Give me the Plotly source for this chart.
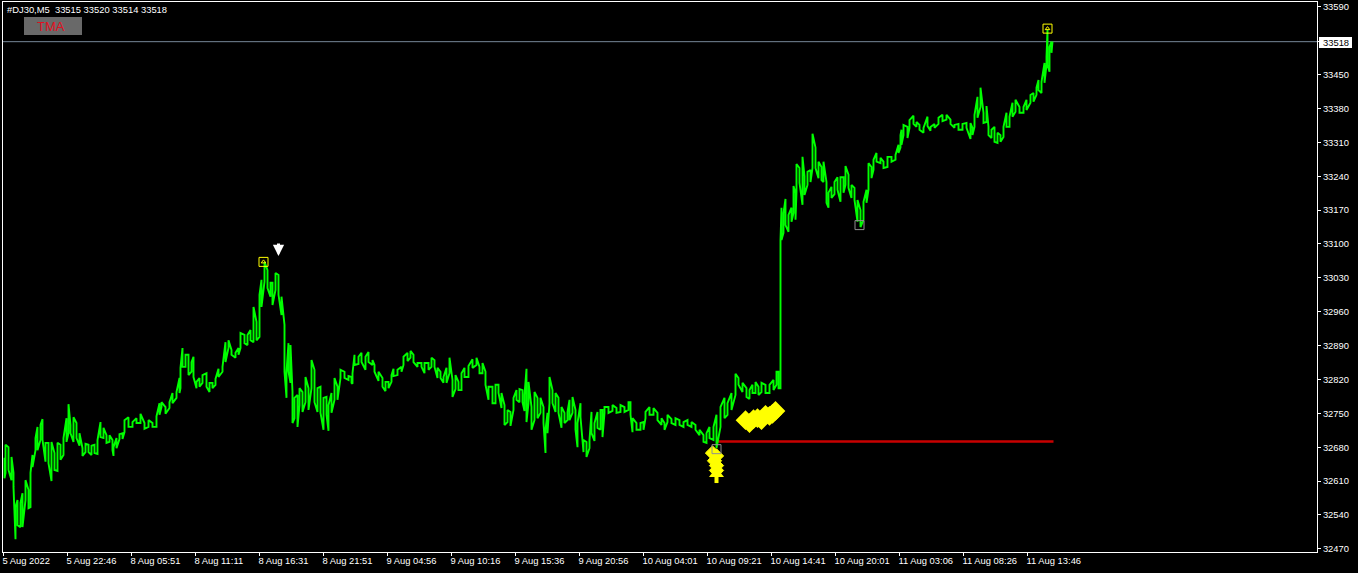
import plotly.graph_objects as go

bars = [4,5,8,11,13,15,17,20,22,25,28,30,32,35,37,40,42,45,48,51,54,57,60,63,66,68,70,73,76,79,82,85,88,91,94,97,100,103,106,109,112,113,116,119,122,124,128,132,136,140,144,148,152,156,159,161,165,169,172,176,179,
 180,182,185,188,191,193,196,199,202,206,209,212,215,218,222,225,228,231,235,238,240,244,247,250,253,256,259,261,264,267,270,272,275,278,281,284,286,288,290,292,294,297,299,302,305,308,311,314,317,320,323,326,328,331,334,337,340,344,348,351,352,
 354,358,361,365,368,372,374,378,382,385,388,391,393,397,401,403,407,410,413,417,421,424,428,431,434,437,440,443,446,449,452,455,458,461,464,468,472,476,479,482,485,488,492,495,498,501,504,507,510,513,516,519,522,524,526,528,
 531,534,537,540,543,545,547,549,552,555,558,561,564,567,569,572,575,577,580,583,586,589,591,594,597,600,602,604,608,612,616,620,624,628,630,632,636,640,643,645,649,653,657,661,664,667,671,675,679,683,687,691,695,699,703,706,709,713,
 716,720,724,727,731,735,738,742,746,749,752,755,758,761,765,769,773,776,778,
 780,781,783,785,788,791,793,795,796,799,802,804,807,810,812,815,818,821,823,826,828,831,834,837,840,843,845,848,851,854,857,860,863,866,868,871,873,876,880,883,887,891,895,898,900,
 901,903,907,909,913,916,919,923,927,930,934,938,942,946,950,954,958,962,966,970,972,974,977,980,983,986,988,991,994,997,1000,1003,1006,1009,1012,1015,1019,1023,1026,1030,1033,1036,1038,1041,1044,1046,1047,1049,1051,1052]

highs = [32658,32685,32680,32660,32627,32556,32571,32565,32585,32612,32592,32627,32664,32699,32722,32726,32738,32689,32689,32691,32668,32689,32685,32699,32740,32769,32726,32742,32730,32709,32678,32687,32685,32683,32685,32695,32732,32720,32705,32705,32695,32680,32699,32707,32709,32736,32742,32732,32740,32749,32730,32736,32730,32744,32771,32773,32763,32773,32792,32794,32823,
 32844,32885,32871,32871,32856,32867,32815,32823,32829,32833,32813,32813,32821,32842,32846,32897,32901,32881,32875,32885,32916,32912,32912,32922,32970,32939,32995,33026,33063,33046,33020,33020,33040,33036,32991,32933,32836,32895,32891,32794,32782,32788,32802,32794,32825,32802,32860,32840,32802,32805,32782,32784,32767,32792,32823,32805,32840,32836,32827,32825,32833,
 32871,32867,32875,32867,32877,32860,32850,32836,32823,32815,32815,32829,32842,32840,32846,32867,32875,32879,32871,32854,32854,32854,32854,32865,32860,32844,32836,32825,32844,32865,32819,32829,32815,32833,32844,32848,32862,32865,32846,32854,32836,32805,32805,32809,32809,32792,32767,32757,32753,32782,32798,32800,32798,32788,32842,32815,
 32763,32794,32782,32782,32763,32716,32751,32825,32798,32792,32782,32763,32751,32753,32778,32784,32757,32730,32771,32695,32691,32695,32753,32730,32753,32757,32757,32763,32763,32767,32761,32767,32763,32773,32773,32740,32730,32730,32732,32753,32763,32761,32751,32740,32730,32747,32738,32740,32736,32732,32736,32732,32726,32716,32705,32709,32722,32722,
 32747,32763,32782,32771,32792,32832,32823,32813,32802,32798,32809,32815,32805,32813,32809,32809,32819,32836,32836,
 33108,33175,33164,33193,33160,33175,33220,33206,33265,33257,33280,33240,33249,33253,33328,33299,33270,33259,33270,33228,33206,33218,33228,33238,33238,33238,33261,33243,33222,33216,33191,33170,33187,33212,33267,33259,33274,33288,33278,33270,33280,33280,33284,33305,33325,
 33336,33346,33342,33356,33365,33352,33346,33340,33363,33342,33348,33361,33367,33367,33357,33346,33348,33348,33350,33350,33340,33367,33404,33423,33371,33385,33342,33336,33342,33330,33325,33342,33371,33363,33392,33398,33383,33383,33398,33408,33412,33423,33439,33435,33474,33487,33542,33507,33518,33518]

lows = [32616,32627,32633,32612,32598,32490,32519,32515,32515,32571,32554,32556,32639,32674,32674,32695,32695,32650,32647,32610,32633,32631,32654,32664,32691,32709,32709,32691,32699,32683,32662,32670,32670,32664,32668,32666,32701,32699,32689,32691,32674,32662,32678,32697,32697,32711,32722,32722,32730,32730,32718,32722,32722,32722,32747,32763,32749,32761,32771,32782,32792,
 32802,32846,32846,32829,32836,32825,32802,32805,32813,32805,32794,32802,32809,32825,32836,32856,32885,32871,32865,32871,32885,32895,32891,32901,32897,32901,32908,32970,33022,33009,32991,32974,33005,32995,32953,32836,32782,32836,32813,32730,32740,32722,32767,32753,32773,32757,32802,32773,32753,32751,32716,32747,32714,32751,32778,32778,32823,32823,32819,32813,32811,
 32850,32852,32856,32840,32856,32850,32836,32817,32805,32796,32802,32815,32827,32829,32836,32850,32858,32865,32856,32846,32846,32833,32840,32846,32846,32823,32823,32813,32813,32833,32784,32800,32798,32798,32825,32825,32844,32850,32833,32833,32809,32778,32771,32771,32792,32761,32726,32732,32724,32757,32778,32773,32773,32755,32732,32771,
 32716,32736,32740,32751,32730,32668,32709,32771,32771,32753,32751,32720,32730,32736,32736,32751,32716,32680,32742,32670,32660,32678,32709,32693,32720,32716,32701,32751,32751,32755,32751,32753,32753,32757,32747,32711,32716,32716,32716,32740,32747,32747,32736,32726,32716,32732,32730,32726,32726,32722,32726,32722,32716,32705,32691,32689,32699,32695,
 32678,32722,32740,32747,32757,32788,32809,32794,32784,32780,32792,32792,32788,32794,32792,32792,32798,32809,32802,
 32802,33108,33123,33139,33125,33146,33164,33150,33208,33226,33181,33201,33222,33228,33257,33257,33236,33232,33228,33185,33175,33195,33203,33212,33187,33206,33222,33216,33195,33191,33146,33135,33150,33185,33212,33236,33253,33270,33267,33257,33259,33270,33274,33288,33299,
 33305,33325,33319,33340,33348,33342,33336,33330,33344,33334,33340,33348,33354,33357,33348,33340,33336,33336,33340,33317,33325,33342,33361,33383,33350,33352,33325,33319,33311,33309,33311,33321,33342,33342,33363,33373,33371,33371,33377,33392,33394,33408,33418,33412,33433,33470,33470,33456,33495,33518]

tick_bars = [3,67,131,195,259,323,387,451,515,579,643,707,771,835,899,963,1027]
tick_times = ["5 Aug 2022","5 Aug 22:46","8 Aug 05:51","8 Aug 11:11","8 Aug 16:31","8 Aug 21:51","9 Aug 04:56","9 Aug 10:16","9 Aug 15:36","9 Aug 20:56","10 Aug 04:01","10 Aug 09:21","10 Aug 14:41","10 Aug 20:01","11 Aug 03:06","11 Aug 08:26","11 Aug 13:46"]
price_ticks = [33590,33450,33380,33310,33240,33170,33100,33030,32960,32890,32820,32750,32680,32610,32540,32470]
last_price = 33518
title_text = "#DJ30,M5  33515 33520 33514 33518"
button_text = "TMA"

level_bars = [716,1053]
level_prices = [32692,32692]
peak_bars = [263,1047]
peak_prices = [33063,33545]
trough_bars = [716,859]
trough_prices = [32676,33139]
sell_bar = 278
sell_price = 33075
buy_bars_a = [745,749,753,757,761,765,769,772,775]
buy_prices_a = [32736,32730,32738,32740,32736,32747,32745,32749,32755]
buy_bars_b = [712,716,714,716,716]
buy_prices_b = [32668,32662,32652,32642,32632]
buy_stem_bars = [716,716]
buy_stem_prices = [32633,32606]
buy_head_bars = [716]
buy_head_prices = [32625]

W, H = 1358, 573
L, R, T, B = 3, 1317, 2, 552
def fx(p): return (p - L) / (R - L)
def fy(p): return 1 - (p - T) / (B - T)

x_line, y_line = [], []
for i, b in enumerate(bars):
    a, c = (highs[i], lows[i]) if i % 2 == 0 else (lows[i], highs[i])
    x_line += [b, b]
    y_line += [a, c]

YEL = "#ffff00"
fig = go.Figure()
fig.add_trace(go.Scatter(x=level_bars, y=level_prices, mode="lines", line=dict(color="#c80000", width=2.5)))
fig.add_trace(go.Scatter(x=x_line, y=y_line, mode="lines", line=dict(color="#00ff00", width=1.9, shape="linear")))
fig.add_trace(go.Scatter(x=buy_bars_a, y=buy_prices_a, mode="markers",
                         marker=dict(symbol="diamond", size=13, color=YEL, line=dict(color=YEL, width=2))))
fig.add_trace(go.Scatter(x=buy_bars_b, y=buy_prices_b, mode="markers",
                         marker=dict(symbol="diamond", size=11, color=YEL, line=dict(color=YEL, width=1))))
fig.add_trace(go.Scatter(x=buy_stem_bars, y=buy_stem_prices, mode="lines", line=dict(color=YEL, width=4)))
fig.add_trace(go.Scatter(x=buy_head_bars, y=buy_head_prices, mode="markers",
                         marker=dict(symbol="triangle-up", size=13, color=YEL)))
fig.add_trace(go.Scatter(x=peak_bars, y=peak_prices, mode="markers",
                         marker=dict(symbol="square-open", size=9, color=YEL, line=dict(color=YEL, width=1))))
fig.add_trace(go.Scatter(x=peak_bars, y=peak_prices, mode="markers",
                         marker=dict(symbol="triangle-up-open", size=4, color=YEL, line=dict(color=YEL, width=1))))
fig.add_trace(go.Scatter(x=trough_bars, y=trough_prices, mode="markers",
                         marker=dict(symbol="square-open", size=9, color="#909090", line=dict(color="#909090", width=1))))

font = dict(family="Liberation Sans, Arial, sans-serif", size=9.4, color="white")
fig.update_layout(
    width=W, height=H, showlegend=False, paper_bgcolor="black", plot_bgcolor="black",
    margin=dict(l=L, r=W - R, t=T, b=H - B, pad=0), font=font,
    xaxis=dict(range=[2.5, 1316.5], tickvals=tick_bars, ticktext=tick_times, ticks="outside", ticklen=3,
               tickcolor="white", tickwidth=1, showgrid=False, zeroline=False, showline=True, mirror=True,
               linecolor="white", linewidth=1, tickfont=font, tickangle=0, ticklabelposition="outside right",
               ticklabelshift=-2),
    yaxis=dict(range=[32463.5, 33600], side="right", tickvals=price_ticks + [last_price],
               ticktext=[str(v) for v in price_ticks] + [""], ticks="outside", ticklen=3, tickcolor="white",
               tickwidth=1, showgrid=False, zeroline=False, showline=True, mirror=True, linecolor="white",
               linewidth=1, tickfont=font),
    shapes=[
        dict(type="line", xref="paper", x0=0, x1=1, yref="y", y0=last_price, y1=last_price,
             line=dict(color="#778899", width=1), layer="below"),
        dict(type="rect", xref="paper", yref="paper", x0=fx(1319), x1=fx(1352), y0=fy(48), y1=fy(37),
             fillcolor="white", line=dict(width=0)),
        dict(type="rect", xref="paper", yref="paper", x0=fx(24), x1=fx(82), y0=fy(35), y1=fy(17),
             fillcolor="#696969", line=dict(width=0)),
    ],
    annotations=[
        dict(xref="paper", yref="paper", x=fx(5), y=fy(10), text=title_text, showarrow=False, xanchor="left",
             yanchor="middle", font=font),
        dict(xref="paper", yref="paper", x=fx(51), y=fy(26.5), text=button_text, showarrow=False, xanchor="center",
             yanchor="middle", font=dict(family="Liberation Sans, Arial, sans-serif", size=13, color="#e01020")),
        dict(xref="paper", yref="paper", x=fx(1335.5), y=fy(42.5), text=str(last_price), showarrow=False,
             xanchor="center", yanchor="middle", font=dict(family="Liberation Sans, Arial, sans-serif", size=9.4, color="black")),
        dict(x=sell_bar, y=sell_price, xref="x", yref="y", ax=0, ay=-14, text="", showarrow=True, arrowhead=2,
             arrowsize=0.75, arrowwidth=3, arrowcolor="white"),
    ],
)
fig.write_html("out.html", config=dict(displayModeBar=False),
               post_script="document.body.style.margin='0';document.body.style.background='black';document.body.style.overflow='hidden';")
